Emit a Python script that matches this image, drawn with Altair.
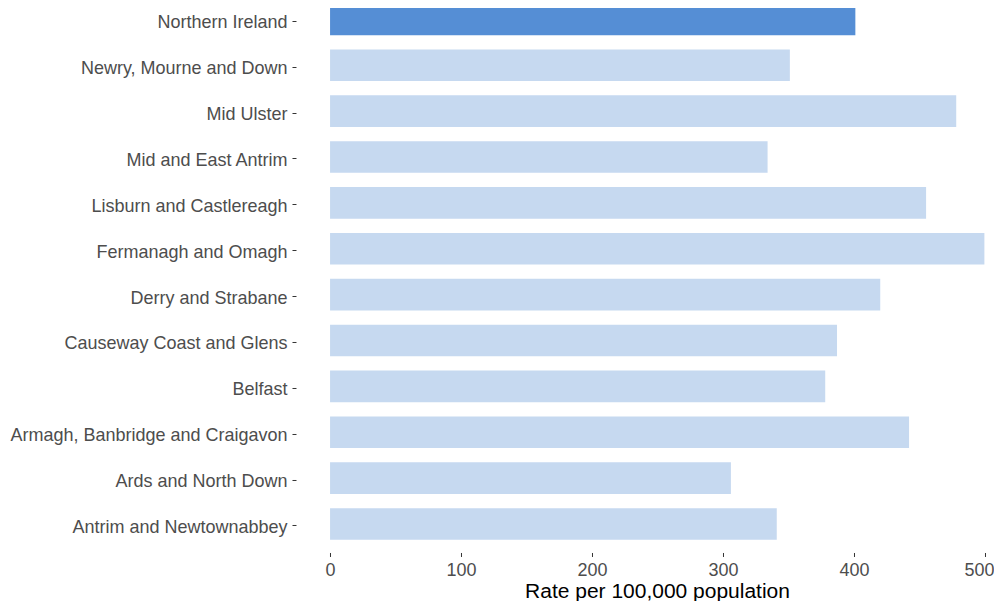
import altair as alt
import pandas as pd

districts = [
    "Northern Ireland",
    "Newry, Mourne and Down",
    "Mid Ulster",
    "Mid and East Antrim",
    "Lisburn and Castlereagh",
    "Fermanagh and Omagh",
    "Derry and Strabane",
    "Causeway Coast and Glens",
    "Belfast",
    "Armagh, Banbridge and Craigavon",
    "Ards and North Down",
    "Antrim and Newtownabbey",
]
rates = [401, 351, 478, 334, 455, 499.5, 420, 387, 378, 442, 306, 341]
groups = ["NI" if d == "Northern Ireland" else "LGD" for d in districts]
tick_values = [0, 100, 200, 300, 400, 500]

df = pd.DataFrame({"district": districts, "rate": rates, "group": groups})

FONT = "Liberation Sans"

chart = (
    alt.Chart(df)
    .mark_bar()
    .encode(
        y=alt.Y(
            "district:N",
            sort=districts,
            scale=alt.Scale(range=[-16.2, 543.5], paddingInner=0.31, paddingOuter=0.255),
            axis=alt.Axis(
                title=None,
                labelFont=FONT,
                labelFontSize=18,
                labelColor="#4d4d4d",
                labelPadding=5,
                labelLimit=400,
                labelOffset=2,
                tickOffset=1.5,
                tickSize=4,
                tickColor="#333333",
                domain=False,
                grid=False,
            ),
        ),
        x=alt.X(
            "rate:Q",
            scale=alt.Scale(domain=[-26, 506.3], nice=False, zero=False),
            axis=alt.Axis(
                values=tick_values,
                title="Rate per 100,000 population",
                labelFont=FONT,
                labelFontSize=18,
                labelColor="#4d4d4d",
                labelBaseline="alphabetic",
                labelPadding=19.5,
                labelOffset={"condition": {"test": "datum.value == 500", "value": -6}, "value": 0},
                tickSize=4,
                tickColor="#333333",
                domain=False,
                grid=False,
                titleFont=FONT,
                titleFontSize=21,
                titleFontWeight="normal",
                titleColor="#000000",
                titleX=361,
                titleY=45,
                titleAlign="center",
                titleBaseline="alphabetic",
            ),
        ),
        color=alt.Color(
            "group:N",
            scale=alt.Scale(domain=["NI", "LGD"], range=["#558ED5", "#C6D9F0"]),
            legend=None,
        ),
    )
    .properties(
        width=697.3,
        height=544.5,
        background="#ffffff",
        autosize=alt.AutoSizeParams(type="none"),
        padding={"left": 288, "top": 0, "right": 1, "bottom": 48.5},
    )
    .configure_view(stroke="transparent", strokeWidth=0)
)

chart.save("out.html", embed_options={"renderer": "svg", "actions": False})
